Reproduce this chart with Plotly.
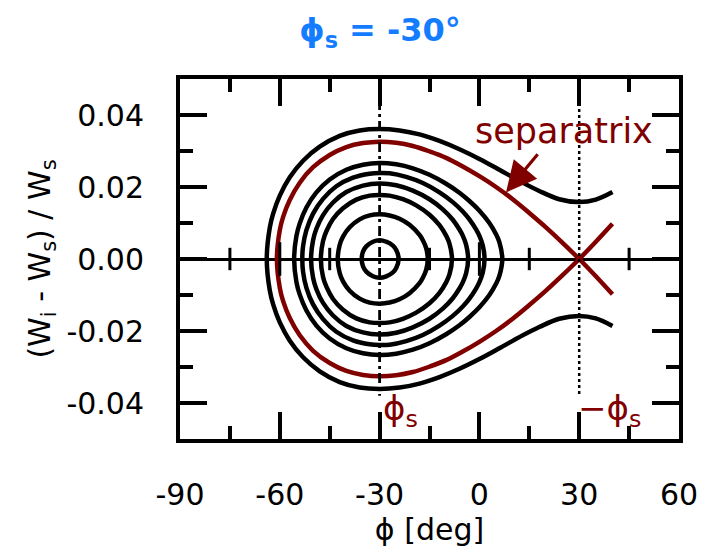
import plotly.graph_objects as go

# ---------------- data ----------------
PHI_S = -30                      # synchronous phase [deg]
X_RANGE = [-90, 60]
Y_RANGE = [-0.05, 0.05]
X_TICKS = [-90, -60, -30, 0, 30, 60]
X_TICKTEXT = ["-90", "-60", "-30", "0", "30", "60"]
Y_TICKS = [-0.04, -0.02, 0.0, 0.02, 0.04]
Y_TICKTEXT = ["-0.04", "-0.02", "0.00", "0.02", "0.04"]
ZERO_MAJOR_TICKS = [-60, 0]                  # crossing ticks on the W = 0 line
ZERO_MINOR_TICKS = [-75, -45, -15, 15, 45]
VLINE_W = [0.05, -0.038]         # extent of the two vertical marker lines

# closed inner orbits (phi [deg], (Wi-Ws)/Ws)
phi_c0 = [-30, -28, -26, -25, -24.29, -25, -26, -28, -30, -32, -34, -35, -35.39, -35, -34, -32, -30]
w_c0 = [0.0052, 0.0048, 0.0037, 0.0025, 0.0, -0.0025, -0.0037, -0.0048, -0.0052, -0.0048, -0.0035,
        -0.0020, 0.0, 0.0020, 0.0035, 0.0048, 0.0052]

phi_c1 = [-30, -27, -24, -21, -18, -17, -16, -15.53, -16, -17, -18, -21, -24, -27, -30, -33, -36, -39,
          -41, -42, -42.58, -42, -41, -39, -36, -33, -30]
w_c1 = [0.0124, 0.0121, 0.0112, 0.0095, 0.0067, 0.0052, 0.0030, 0.0, -0.0030, -0.0052, -0.0067, -0.0095,
        -0.0112, -0.0121, -0.0124, -0.0121, -0.0110, -0.0088, -0.0062, -0.0039, 0.0, 0.0039, 0.0062,
        0.0088, 0.0110, 0.0121, 0.0124]

phi_c2 = [-30, -27, -23, -19, -15, -12, -10, -9, -8.25, -9, -10, -12, -15, -19, -23, -27, -30, -33, -37,
          -41, -44, -46, -47, -47.65, -47, -46, -44, -41, -37, -33, -30]
w_c2 = [0.0178, 0.0176, 0.0166, 0.0149, 0.0123, 0.0094, 0.0065, 0.0043, 0.0, -0.0043, -0.0065, -0.0094,
        -0.0123, -0.0149, -0.0166, -0.0176, -0.0178, -0.0176, -0.0165, -0.0141, -0.0111, -0.0077,
        -0.0050, 0.0, 0.0050, 0.0077, 0.0111, 0.0141, 0.0165, 0.0176, 0.0178]

phi_c3 = [-30, -25, -20, -15, -11, -8, -6, -5, -4, -3.39, -4, -5, -6, -8, -11, -15, -20, -25, -30, -35,
          -40, -44, -47, -49, -50, -50.6, -50, -49, -47, -44, -40, -35, -30]
w_c3 = [0.0210, 0.0205, 0.0190, 0.0166, 0.0138, 0.0109, 0.0082, 0.0065, 0.0040, 0.0, -0.0040, -0.0065,
        -0.0082, -0.0109, -0.0138, -0.0166, -0.0190, -0.0205, -0.0210, -0.0204, -0.0186, -0.0157,
        -0.0122, -0.0084, -0.0052, 0.0, 0.0052, 0.0084, 0.0122, 0.0157, 0.0186, 0.0204, 0.0210]

phi_c4 = [-30, -27, -22, -17, -12, -8, -5, -3, -1, 0, 1, 1.54, 1, 0, -1, -3, -5, -8, -12, -17, -22, -27,
          -30, -33, -38, -43, -47, -50, -52, -53, -53.24, -53, -52, -50, -47, -43, -38, -33, -30]
w_c4 = [0.0239, 0.0238, 0.0228, 0.0211, 0.0185, 0.0158, 0.0132, 0.0110, 0.0082, 0.0064, 0.0038, 0.0,
        -0.0038, -0.0064, -0.0082, -0.0110, -0.0132, -0.0158, -0.0185, -0.0211, -0.0228, -0.0238,
        -0.0239, -0.0237, -0.0226, -0.0202, -0.0167, -0.0126, -0.0080, -0.0036, 0.0, 0.0036, 0.0080,
        0.0126, 0.0167, 0.0202, 0.0226, 0.0237, 0.0239]

phi_c5 = [-30, -25, -20, -15, -10, -6, -3, 0, 3, 5, 6, 6.88, 6, 5, 3, 0, -3, -6, -10, -15, -20, -25, -30,
          -35, -40, -45, -49, -52, -54, -55, -55.69, -55, -54, -52, -49, -45, -40, -35, -30]
w_c5 = [0.0267, 0.0263, 0.0252, 0.0234, 0.0209, 0.0184, 0.0161, 0.0134, 0.0100, 0.0069, 0.0047, 0.0,
        -0.0047, -0.0069, -0.0100, -0.0134, -0.0161, -0.0184, -0.0209, -0.0234, -0.0252, -0.0263,
        -0.0267, -0.0262, -0.0248, -0.0221, -0.0185, -0.0143, -0.0099, -0.0064, 0.0, 0.0064, 0.0099,
        0.0143, 0.0185, 0.0221, 0.0248, 0.0262, 0.0267]

# separatrix (one continuous path through the unstable point)
phi_sep = [40, 35, 30, 25, 20, 15, 10, 5, 0, -5, -10, -15, -20, -25, -30, -35, -40, -45, -50, -54, -57,
           -59, -60, -60.87, -60, -59, -57, -54, -50, -45, -40, -35, -30, -25, -20, -15, -10, -5, 0, 5,
           10, 15, 20, 25, 30, 35, 40]
w_sep = [0.0098, 0.0048, 0.0, -0.0045, -0.0088, -0.0128, -0.0166, -0.0200, -0.0230, -0.0257, -0.0281,
         -0.0299, -0.0314, -0.0323, -0.0326, -0.0322, -0.0311, -0.0289, -0.0255, -0.0212, -0.0164,
         -0.0117, -0.0080, 0.0, 0.0080, 0.0117, 0.0164, 0.0212, 0.0255, 0.0289, 0.0311, 0.0322, 0.0326,
         0.0323, 0.0314, 0.0299, 0.0281, 0.0257, 0.0230, 0.0200, 0.0166, 0.0128, 0.0088, 0.0045, 0.0,
         -0.0048, -0.0098]

# outer (unbounded) orbit
phi_out = [40, 35, 30, 24, 18, 12, 6, 0, -6, -12, -18, -24, -30, -36, -42, -48, -53, -57, -60, -62, -63,
           -63.92, -63, -62, -60, -57, -53, -48, -42, -36, -30, -24, -18, -12, -6, 0, 6, 12, 18, 24, 30,
           35, 40]
w_out = [0.0186, 0.0165, 0.0158, 0.0166, 0.0189, 0.0217, 0.0248, 0.0278, 0.0305, 0.0328, 0.0346, 0.0357,
         0.0361, 0.0357, 0.0342, 0.0312, 0.0273, 0.0227, 0.0176, 0.0126, 0.0088, 0.0, -0.0088, -0.0126,
         -0.0176, -0.0227, -0.0273, -0.0312, -0.0342, -0.0357, -0.0361, -0.0357, -0.0346, -0.0328,
         -0.0305, -0.0278, -0.0248, -0.0217, -0.0189, -0.0166, -0.0158, -0.0165, -0.0186]

# arrow of the "separatrix" label: tip and tail
ARROW_TIP = (8.0, 0.0185)
ARROW_TAIL = (17.9, 0.0295)
SEP_LABEL_POS = (25.5, 0.0356)
PHI_LABEL_W = -0.0352

# ---------------- style ----------------
BLACK = "black"
DARKRED = "#800000"
BLUE = "rgb(20,125,255)"
FONT = "DejaVu Sans"
LW = 4.5

fig = go.Figure()

for phis, ws in [(phi_c0, w_c0), (phi_c1, w_c1), (phi_c2, w_c2), (phi_c3, w_c3),
                 (phi_c4, w_c4), (phi_c5, w_c5), (phi_out, w_out)]:
    fig.add_trace(go.Scatter(x=phis, y=ws, mode="lines", showlegend=False, hoverinfo="skip",
                             line=dict(color=BLACK, width=LW, shape="spline", smoothing=1)))

fig.add_trace(go.Scatter(x=phi_sep, y=w_sep, mode="lines", showlegend=False, hoverinfo="skip",
                         line=dict(color=DARKRED, width=LW, shape="spline", smoothing=1)))

# vertical marker lines at phi_s and -phi_s
fig.add_trace(go.Scatter(x=[PHI_S, PHI_S], y=VLINE_W, mode="lines", showlegend=False, hoverinfo="skip",
                         line=dict(color=BLACK, width=2.8, dash="10px,4px,3px,4px")))
fig.add_trace(go.Scatter(x=[-PHI_S, -PHI_S], y=VLINE_W, mode="lines", showlegend=False, hoverinfo="skip",
                         line=dict(color=BLACK, width=2.5, dash="3px,3px")))

# crossing ticks on the zero line
fig.add_trace(go.Scatter(x=ZERO_MINOR_TICKS, y=[0] * len(ZERO_MINOR_TICKS), mode="markers",
                         showlegend=False, hoverinfo="skip",
                         marker=dict(symbol="line-ns", size=16, line=dict(color=BLACK, width=3))))
fig.add_trace(go.Scatter(x=ZERO_MAJOR_TICKS, y=[0] * len(ZERO_MAJOR_TICKS), mode="markers",
                         showlegend=False, hoverinfo="skip",
                         marker=dict(symbol="line-ns", size=24, line=dict(color=BLACK, width=3))))

axis_common = dict(showgrid=False, showline=True, linecolor=BLACK, linewidth=4,
                   mirror="allticks", ticks="inside", tickcolor=BLACK, tickwidth=3.5, ticklen=27,
                   tickfont=dict(family=FONT, size=30, color=BLACK), ticklabelstandoff=26)

fig.update_layout(
    width=710, height=550,
    margin=dict(l=180, r=25, t=79, b=111),
    paper_bgcolor="white", plot_bgcolor="white",
    font=dict(family=FONT, color=BLACK),
    title=dict(text="ϕ<sub>s</sub> = -30°", x=380 / 710, xanchor="center", y=1 - 30 / 550,
               yanchor="middle", font=dict(family=FONT, size=32, color=BLUE, weight="bold")),
    xaxis=dict(range=X_RANGE, tickvals=X_TICKS, ticktext=X_TICKTEXT, zeroline=False,
               minor=dict(dtick=15, tick0=-90, ticks="inside", ticklen=13, tickwidth=3.5, tickcolor=BLACK),
               title=dict(text="ϕ [deg]", font=dict(family=FONT, size=30), standoff=4),
               **axis_common),
    yaxis=dict(range=Y_RANGE, tickvals=Y_TICKS, ticktext=Y_TICKTEXT,
               zeroline=True, zerolinecolor=BLACK, zerolinewidth=3,
               minor=dict(dtick=0.01, tick0=-0.05, ticks="inside", ticklen=13, tickwidth=3.5, tickcolor=BLACK),
               title=dict(text="(W<sub>i</sub> - W<sub>s</sub>) / W<sub>s</sub>",
                          font=dict(family=FONT, size=30), standoff=8),
               **axis_common),
)

# annotations
fig.add_annotation(x=ARROW_TIP[0], y=ARROW_TIP[1], ax=ARROW_TAIL[0], ay=ARROW_TAIL[1],
                   xref="x", yref="y", axref="x", ayref="y", text="", showarrow=True,
                   arrowhead=2, arrowsize=1.9, arrowwidth=3.2, arrowcolor=DARKRED)
fig.add_annotation(x=SEP_LABEL_POS[0], y=SEP_LABEL_POS[1], xref="x", yref="y", text="separatrix",
                   showarrow=False, xanchor="center", yanchor="middle",
                   font=dict(family=FONT, size=35, color=DARKRED))
fig.add_annotation(x=PHI_S, y=PHI_LABEL_W, xref="x", yref="y", text="ϕ<sub>s</sub>",
                   showarrow=False, xanchor="left", yanchor="top", xshift=1,
                   font=dict(family=FONT, size=34, color=DARKRED))
fig.add_annotation(x=-PHI_S, y=PHI_LABEL_W, xref="x", yref="y", text="−ϕ<sub>s</sub>",
                   showarrow=False, xanchor="left", yanchor="top", xshift=-3,
                   font=dict(family=FONT, size=34, color=DARKRED))

fig.write_html("out.html")
